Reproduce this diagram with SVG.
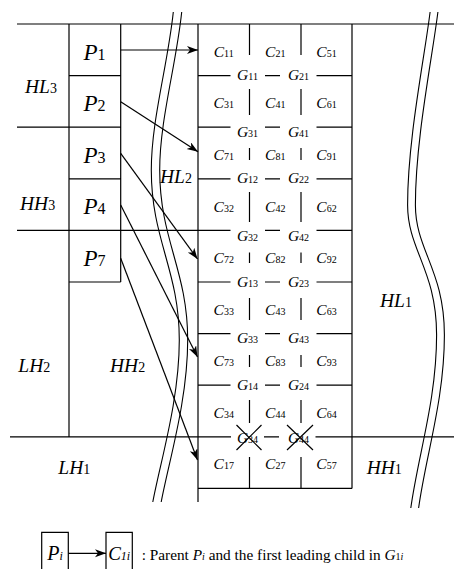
<svg xmlns="http://www.w3.org/2000/svg" width="454" height="569" viewBox="0 0 454 569">
<style>
.ln{stroke:#000;stroke-width:1.2;fill:none}
.cv{stroke:#000;stroke-width:1.1;fill:none}
text{font-family:"Liberation Serif","Times New Roman",serif;fill:#000}
.reg{font-size:19.5px}
.p{font-size:23px;text-anchor:middle}
.c{font-size:15.5px;text-anchor:middle}
.g{font-size:15.5px;text-anchor:middle}
.it{font-style:italic}
.s1{font-size:14px}
.s2{font-size:16px}
.s3{font-size:10px}
.lg{font-size:15.3px}
</style>
<defs>
<marker id="ah" markerUnits="userSpaceOnUse" markerWidth="12" markerHeight="9" refX="11" refY="4" orient="auto">
<path d="M0,0 L11,4 L0,8 L3,4 Z" fill="#000"/>
</marker>
</defs>

<g id="curves">
<g id="curve-left">
<path class="cv" transform="translate(-4.2,0)" d="M177.5,12 C172,65 155.5,120 155.5,170 C155.5,240 183.5,270 183.5,340 C183.5,400 165,460 157,502"/>
<path class="cv" transform="translate(4.2,0)" d="M177.5,12 C172,65 155.5,120 155.5,170 C155.5,240 183.5,270 183.5,340 C183.5,400 165,460 157,502"/>
</g>
<g id="curve-right">
<path class="cv" transform="translate(-3.9,0)" d="M434,12 C428,60 411.5,140 411.5,205 C411.5,250 440.5,270 440.5,335 C440.5,400 422,455 414.7,508"/>
<path class="cv" transform="translate(3.9,0)" d="M434,12 C428,60 411.5,140 411.5,205 C411.5,250 440.5,270 440.5,335 C440.5,400 422,455 414.7,508"/>
</g>
</g>

<g id="frame">
<path class="ln" d="M17,24 H454 M17,127.2 H120.7 M69,75.6 H120.7 M69,178.8 H120.7 M69,282 H120.7 M17,230.4 H230.5 M10,436.8 H231 M315.5,436.8 H454 M264,436.8 H279
M69,24 V436.8 M120.7,24 V282 M198,24 V502 M352,24 V488.4 M198,488.4 H352"/>
</g>

<g id="grid">
<path class="ln" d="
M198,75.6 H230.5 M265,75.6 H280 M316.5,75.6 H352
M198,127.2 H230.5 M265,127.2 H280 M316.5,127.2 H352
M198,178.8 H230.5 M265,178.8 H280 M316.5,178.8 H352
M265,230.4 H280 M316.5,230.4 H352
M198,282 H230.5 M265,282 H280 M316.5,282 H352
M198,333.6 H230.5 M265,333.6 H280 M316.5,333.6 H352
M198,385.2 H230.5 M265,385.2 H280 M316.5,385.2 H352
M249.5,24 V55 M301,24 V55
M249.5,89 V115 M301,89 V115
M249.5,148 V160 M301,148 V160
M249.5,192 V222 M301,192 V222
M249.5,252.5 V263 M301,252.5 V263
M249.5,298 V320 M301,298 V320
M249.5,355 V367 M301,355 V367
M249.5,400 V423 M301,400 V423
M249.5,457 V488.4 M301,457 V488.4"/>
<g id="cells">
<text class="c" x="223.75" y="56.8"><tspan class="it">C</tspan><tspan class="s3">11</tspan></text>
<text class="c" x="275.25" y="56.8"><tspan class="it">C</tspan><tspan class="s3">21</tspan></text>
<text class="c" x="326.5" y="56.8"><tspan class="it">C</tspan><tspan class="s3">51</tspan></text>
<text class="c" x="223.75" y="108.4"><tspan class="it">C</tspan><tspan class="s3">31</tspan></text>
<text class="c" x="275.25" y="108.4"><tspan class="it">C</tspan><tspan class="s3">41</tspan></text>
<text class="c" x="326.5" y="108.4"><tspan class="it">C</tspan><tspan class="s3">61</tspan></text>
<text class="c" x="223.75" y="159.5"><tspan class="it">C</tspan><tspan class="s3">71</tspan></text>
<text class="c" x="275.25" y="159.5"><tspan class="it">C</tspan><tspan class="s3">81</tspan></text>
<text class="c" x="326.5" y="159.5"><tspan class="it">C</tspan><tspan class="s3">91</tspan></text>
<text class="c" x="223.75" y="212"><tspan class="it">C</tspan><tspan class="s3">32</tspan></text>
<text class="c" x="275.25" y="212"><tspan class="it">C</tspan><tspan class="s3">42</tspan></text>
<text class="c" x="326.5" y="212"><tspan class="it">C</tspan><tspan class="s3">62</tspan></text>
<text class="c" x="223.75" y="263.2"><tspan class="it">C</tspan><tspan class="s3">72</tspan></text>
<text class="c" x="275.25" y="263.2"><tspan class="it">C</tspan><tspan class="s3">82</tspan></text>
<text class="c" x="326.5" y="263.2"><tspan class="it">C</tspan><tspan class="s3">92</tspan></text>
<text class="c" x="223.75" y="314.8"><tspan class="it">C</tspan><tspan class="s3">33</tspan></text>
<text class="c" x="275.25" y="314.8"><tspan class="it">C</tspan><tspan class="s3">43</tspan></text>
<text class="c" x="326.5" y="314.8"><tspan class="it">C</tspan><tspan class="s3">63</tspan></text>
<text class="c" x="223.75" y="366.4"><tspan class="it">C</tspan><tspan class="s3">73</tspan></text>
<text class="c" x="275.25" y="366.4"><tspan class="it">C</tspan><tspan class="s3">83</tspan></text>
<text class="c" x="326.5" y="366.4"><tspan class="it">C</tspan><tspan class="s3">93</tspan></text>
<text class="c" x="223.75" y="418"><tspan class="it">C</tspan><tspan class="s3">34</tspan></text>
<text class="c" x="275.25" y="418"><tspan class="it">C</tspan><tspan class="s3">44</tspan></text>
<text class="c" x="326.5" y="418"><tspan class="it">C</tspan><tspan class="s3">64</tspan></text>
<text class="c" x="223.75" y="468.8"><tspan class="it">C</tspan><tspan class="s3">17</tspan></text>
<text class="c" x="275.25" y="468.8"><tspan class="it">C</tspan><tspan class="s3">27</tspan></text>
<text class="c" x="326.5" y="468.8"><tspan class="it">C</tspan><tspan class="s3">57</tspan></text>
</g>
<g id="groups">
<text class="g" x="247.5" y="80"><tspan class="it">G</tspan><tspan class="s3">11</tspan></text>
<text class="g" x="298.5" y="80"><tspan class="it">G</tspan><tspan class="s3">21</tspan></text>
<text class="g" x="247.5" y="136.7"><tspan class="it">G</tspan><tspan class="s3">31</tspan></text>
<text class="g" x="298.5" y="136.7"><tspan class="it">G</tspan><tspan class="s3">41</tspan></text>
<text class="g" x="247.5" y="183.3"><tspan class="it">G</tspan><tspan class="s3">12</tspan></text>
<text class="g" x="298.5" y="183.3"><tspan class="it">G</tspan><tspan class="s3">22</tspan></text>
<text class="g" x="247.5" y="240.5"><tspan class="it">G</tspan><tspan class="s3">32</tspan></text>
<text class="g" x="298.5" y="240.5"><tspan class="it">G</tspan><tspan class="s3">42</tspan></text>
<text class="g" x="247.5" y="286.7"><tspan class="it">G</tspan><tspan class="s3">13</tspan></text>
<text class="g" x="298.5" y="286.7"><tspan class="it">G</tspan><tspan class="s3">23</tspan></text>
<text class="g" x="247.5" y="343.3"><tspan class="it">G</tspan><tspan class="s3">33</tspan></text>
<text class="g" x="298.5" y="343.3"><tspan class="it">G</tspan><tspan class="s3">43</tspan></text>
<text class="g" x="247.5" y="390"><tspan class="it">G</tspan><tspan class="s3">14</tspan></text>
<text class="g" x="298.5" y="390"><tspan class="it">G</tspan><tspan class="s3">24</tspan></text>
<text class="g" x="247.5" y="443"><tspan class="it">G</tspan><tspan class="s3">34</tspan></text>
<text class="g" x="298.5" y="443"><tspan class="it">G</tspan><tspan class="s3">44</tspan></text>
<path class="ln" d="M236.5,425 L261.5,450 M261.5,425 L236.5,450 M287,425 L313,450 M313,425 L287,450"/>
</g>
</g>

<g id="parents">
<g id="P1"><text class="p" x="94.5" y="59.6"><tspan class="it">P</tspan><tspan class="s2">1</tspan></text></g>
<g id="P2"><text class="p" x="94.5" y="111.2"><tspan class="it">P</tspan><tspan class="s2">2</tspan></text></g>
<g id="P3"><text class="p" x="94.5" y="162.8"><tspan class="it">P</tspan><tspan class="s2">3</tspan></text></g>
<g id="P4"><text class="p" x="94.5" y="214.4"><tspan class="it">P</tspan><tspan class="s2">4</tspan></text></g>
<g id="P7"><text class="p" x="94.5" y="266"><tspan class="it">P</tspan><tspan class="s2">7</tspan></text></g>
</g>

<g id="regions">
<text class="reg" x="25" y="93.3"><tspan class="it">HL</tspan><tspan class="s1">3</tspan></text>
<text class="reg" x="20" y="210"><tspan class="it">HH</tspan><tspan class="s1">3</tspan></text>
<text class="reg" x="160" y="183"><tspan class="it">HL</tspan><tspan class="s1">2</tspan></text>
<text class="reg" x="18.3" y="371.7"><tspan class="it">LH</tspan><tspan class="s1">2</tspan></text>
<text class="reg" x="110" y="371.7"><tspan class="it">HH</tspan><tspan class="s1">2</tspan></text>
<text class="reg" x="380" y="307.3"><tspan class="it">HL</tspan><tspan class="s1">1</tspan></text>
<text class="reg" x="58.3" y="474"><tspan class="it">LH</tspan><tspan class="s1">1</tspan></text>
<text class="reg" x="366.7" y="474"><tspan class="it">HH</tspan><tspan class="s1">1</tspan></text>
</g>

<g id="connectors">
<line class="ln" x1="120.7" y1="50" x2="198" y2="50" marker-end="url(#ah)"/>
<line class="ln" x1="120.7" y1="101.7" x2="198" y2="151.7" marker-end="url(#ah)"/>
<line class="ln" x1="120.7" y1="153.3" x2="197.5" y2="259" marker-end="url(#ah)"/>
<line class="ln" x1="120.7" y1="205" x2="197.5" y2="357" marker-end="url(#ah)"/>
<line class="ln" x1="120.7" y1="258.3" x2="197.5" y2="460" marker-end="url(#ah)"/>
</g>

<g id="legend">
<g id="legend-P"><path class="ln" d="M41.7,575 V532.3 H68.3 V575"/>
<text x="55" y="560" font-size="20" text-anchor="middle"><tspan class="it">P</tspan><tspan class="it" font-size="12">i</tspan></text></g>
<g id="legend-C"><path class="ln" d="M106,575 V532.3 H132.3 V575"/>
<text x="119.2" y="560" font-size="19" text-anchor="middle"><tspan class="it">C</tspan><tspan class="it" font-size="12">1i</tspan></text></g>
<line class="ln" x1="68.3" y1="553.3" x2="106" y2="553.3" marker-end="url(#ah)"/>
<text class="lg" x="141.7" y="559.5">:  Parent <tspan class="it">P</tspan><tspan class="it" font-size="10">i</tspan> and the first leading child in <tspan class="it">G</tspan><tspan font-size="10">1</tspan><tspan class="it" font-size="10">i</tspan></text>
</g>
</svg>
